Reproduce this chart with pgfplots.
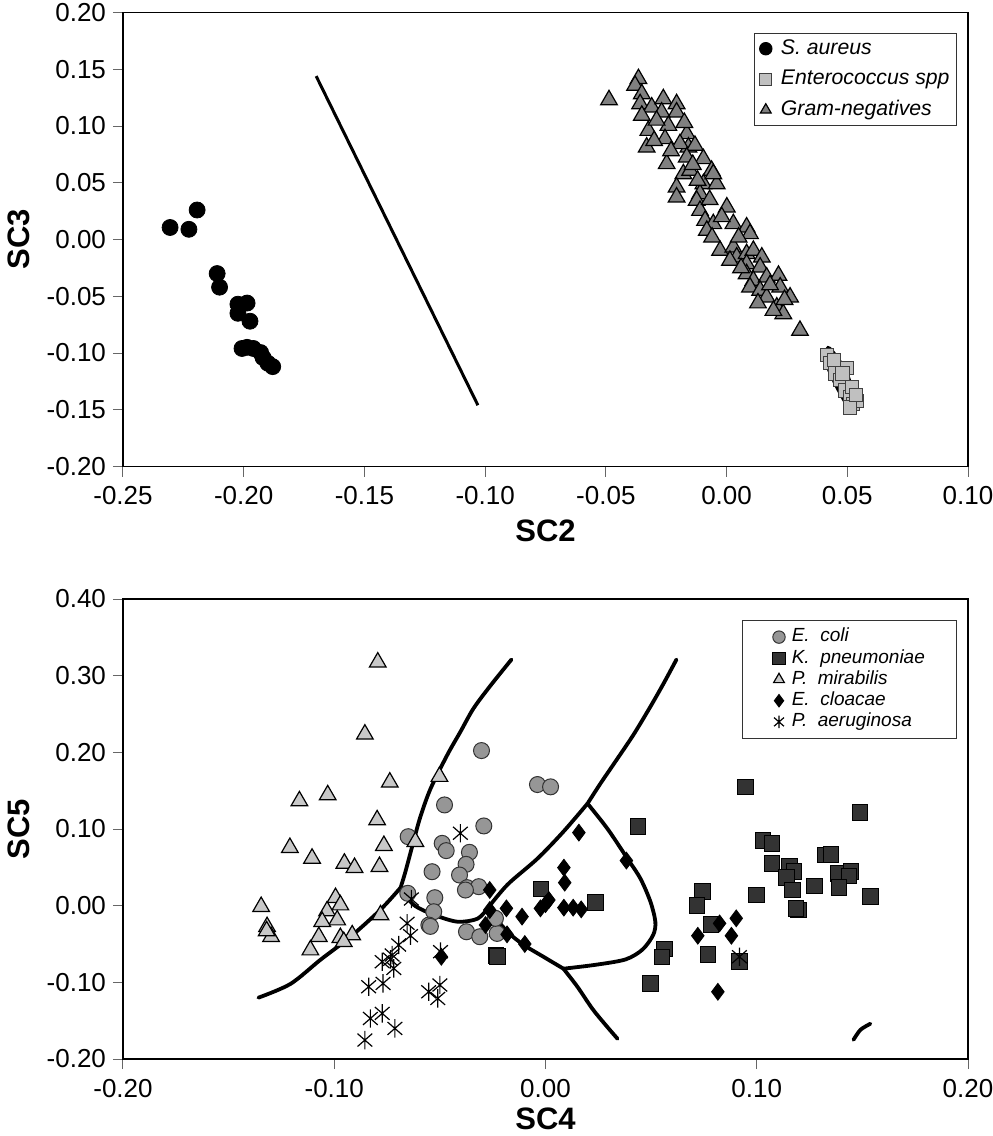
\documentclass[border=0pt]{standalone}
\usepackage{fontspec}
\setmainfont{Liberation Sans}
\usepackage{pgfplots}
\pgfplotsset{compat=1.18}

\pgfdeclareplotmark{xast}{%
  \pgfpathmoveto{\pgfqpoint{0pt}{\pgfplotmarksize}}%
  \pgfpathlineto{\pgfqpoint{0pt}{-\pgfplotmarksize}}%
  \pgfpathmoveto{\pgfqpoint{-0.8\pgfplotmarksize}{0.7\pgfplotmarksize}}%
  \pgfpathlineto{\pgfqpoint{0.8\pgfplotmarksize}{-0.7\pgfplotmarksize}}%
  \pgfpathmoveto{\pgfqpoint{-0.8\pgfplotmarksize}{-0.7\pgfplotmarksize}}%
  \pgfpathlineto{\pgfqpoint{0.8\pgfplotmarksize}{0.7\pgfplotmarksize}}%
  \pgfusepathqstroke}

\definecolor{gneg}{RGB}{128,128,128}
\definecolor{ent}{RGB}{192,192,192}
\definecolor{ecoli}{RGB}{150,150,150}
\definecolor{kpn}{RGB}{51,51,51}
\definecolor{pmir}{RGB}{200,200,200}

\pgfplotsset{
  common/.style={
    scale only axis,
    width=422.5pt,
    axis line style={black, line width=0.9pt},
    tick align=outside,
    xtick pos=left, ytick pos=left,
    major tick length=5pt,
    tick style={black!60, line width=0.5pt},
    scaled ticks=false,
    /pgf/number format/fixed,
    /pgf/number format/fixed zerofill,
    /pgf/number format/precision=2,
    /pgf/number format/assume math mode=true,
    tick label style={font=\fontsize{13}{15}\selectfont},
    xticklabel style={yshift=-1.5pt},
    label style={font=\bfseries\fontsize{15.5}{18}\selectfont},
    xlabel style={at={(rel axis cs:0.5,0)}, anchor=center, yshift=-32pt},
    ylabel style={at={(rel axis cs:0,0.5)}, anchor=center, yshift=52pt},
    legend cell align=left,
    legend image code/.code={\draw[##1, mark size=3.1pt] plot coordinates {(0.1cm,0cm)};},
    boundary/.style={black, line width=1.9pt, smooth, tension=0.5, line join=round, line cap=round, forget plot},
  }
}

\begin{document}
\begin{tikzpicture}
\useasboundingbox (0,0) rectangle (496pt,-568pt);

% ---------------- Top plot ----------------
\begin{axis}[common,
  at={(61.5pt,-233.25pt)}, anchor=south west,
  height=227pt,
  xmin=-0.25, xmax=0.10, ymin=-0.20, ymax=0.20,
  xtick={-0.25,-0.20,-0.15,-0.10,-0.05,0,0.05,0.10},
  ytick={-0.20,-0.15,-0.10,-0.05,0,0.05,0.10,0.15,0.20},
  xlabel={SC2}, ylabel={SC3},
  legend style={at={(1,1)}, anchor=north east, xshift=-5.5pt, yshift=-10pt,
    draw=black!80, line width=0.5pt, fill=white,
    font=\itshape\fontsize{10.6}{12}\selectfont, row sep=3.6pt,
    nodes={inner sep=1pt, text height=7.5pt, text depth=2.2pt},
    /tikz/every odd column/.append style={column sep=3.5pt},
    inner xsep=2.5pt, inner ysep=2pt},
]
\addplot[only marks, mark=*, mark size=4pt, draw=black, fill=black] coordinates {
(-0.2305,0.0106) (-0.2227,0.0090) (-0.2193,0.0260) (-0.2110,-0.0300)
(-0.2100,-0.0420) (-0.2024,-0.0570) (-0.1986,-0.0560) (-0.2024,-0.0650)
(-0.1974,-0.0720) (-0.1986,-0.0950) (-0.1960,-0.0960) (-0.1930,-0.0996)
(-0.1920,-0.1040) (-0.1900,-0.1090) (-0.1880,-0.1120) (-0.2007,-0.0960)
};
\addlegendentry{S.\ aureus}
\addplot[only marks, mark=square*, mark size=3.3pt, draw=black!75, fill=ent, line width=0.5pt] coordinates {
(0.0416,-0.102) (0.0429,-0.109) (0.0450,-0.118) (0.0470,-0.124)
(0.0491,-0.133) (0.0512,-0.139) (0.0524,-0.145) (0.0520,-0.130)
(0.0500,-0.113) (0.0540,-0.142) (0.0510,-0.148) (0.0480,-0.118)
(0.0445,-0.106) (0.0535,-0.137)
};
\addlegendentry{Enterococcus spp}
\addplot[only marks, mark=triangle*, mark size=4.8pt, draw=black, fill=gneg, line width=0.6pt] coordinates {
(-0.0487,0.1230) (-0.0365,0.1416) (-0.0379,0.1357) (-0.0351,0.1283)
(-0.0358,0.1195) (-0.0310,0.1166) (-0.0262,0.1239) (-0.0207,0.1195)
(-0.0207,0.1122) (-0.0269,0.1122) (-0.0351,0.1093) (-0.0324,0.0960)
(-0.0331,0.0813) (-0.0241,0.1004) (-0.0255,0.0887) (-0.0165,0.0931)
(-0.0158,0.0813) (-0.0193,0.0843) (-0.0131,0.0828) (-0.0248,0.0667)
(-0.0165,0.0725) (-0.0096,0.0711) (-0.0062,0.0608) (-0.0179,0.0578)
(-0.0151,0.0608) (-0.0207,0.0461) (-0.0207,0.0373) (-0.0096,0.0490)
(-0.0110,0.0402) (-0.0041,0.0490) (-0.0055,0.0578) (-0.0124,0.0344)
(-0.0110,0.0255) (-0.0089,0.0167) (-0.0055,0.0138) (0.0001,0.0285)
(0.0028,0.0138) (0.0083,0.0109) (0.0097,0.0050) (-0.0082,0.0079)
(-0.0027,-0.0097) (0.0028,-0.0068) (0.0042,-0.0156) (0.0014,-0.0185)
(0.0083,-0.0126) (0.0111,-0.0097) (0.0146,-0.0156) (0.0083,-0.0215)
(0.0139,-0.0244) (0.0083,-0.0303) (0.0111,-0.0361) (0.0166,-0.0332)
(0.0215,-0.0317) (0.0097,-0.0420) (0.0139,-0.0449) (0.0222,-0.0420)
(0.0263,-0.0508) (0.0166,-0.0508) (0.0208,-0.0596) (0.0235,-0.0655)
(0.0194,-0.0626) (0.0304,-0.0802) (-0.0290,0.1050) (-0.0230,0.0780)
(-0.0140,0.0660) (-0.0120,0.0520) (-0.0070,0.0350) (-0.0020,0.0200)
(0.0050,0.0020) (-0.0060,0.0020) (0.0060,-0.0250) (0.0180,-0.0400)
(0.0130,-0.0560) (0.0240,-0.0530) (-0.0175,0.1030) (-0.0300,0.0870)
};
\addlegendentry{Gram-negatives}
\addplot[black, line width=1.5pt, forget plot] coordinates {(-0.1700,0.1440) (-0.1030,-0.1460)};
\addplot[black, line width=1.3pt, smooth cycle, tension=0.6, forget plot] coordinates {
(0.0420,-0.0950) (0.0460,-0.1040) (0.0500,-0.1180) (0.0520,-0.1330)
(0.0520,-0.1440) (0.0500,-0.1460) (0.0470,-0.1360) (0.0437,-0.1220)
(0.0410,-0.1070)
};
\end{axis}

% ---------------- Bottom plot ----------------
\begin{axis}[common,
  at={(61.5pt,-529.5pt)}, anchor=south west,
  height=230pt,
  xmin=-0.20, xmax=0.20, ymin=-0.20, ymax=0.40,
  xtick={-0.20,-0.10,0,0.10,0.20},
  ytick={-0.20,-0.10,0,0.10,0.20,0.30,0.40},
  xlabel={SC4}, ylabel={SC5},
  xlabel style={yshift=2pt},
  legend style={at={(1,1)}, anchor=north east, xshift=-5.5pt, yshift=-10.5pt,
    draw=black!80, line width=0.5pt, fill=white,
    font=\itshape\fontsize{9.5}{11}\selectfont, row sep=0pt,
    nodes={inner sep=0.8pt, text height=6.9pt, text depth=2.1pt},
    /tikz/every odd column/.append style={column sep=2.5pt},
    inner xsep=15pt, inner ysep=3pt},
]
\addplot[only marks, mark=*, mark size=4pt, draw=black!80, fill=ecoli, line width=0.5pt] coordinates {
(-0.0303,0.2023) (-0.0478,0.1314) (-0.0292,0.1040) (-0.0650,0.0900)
(-0.0489,0.0813) (-0.0470,0.0718) (-0.0360,0.0696) (-0.0376,0.0539)
(-0.0537,0.0443) (-0.0407,0.0400) (-0.0371,0.0235) (-0.0316,0.0248)
(-0.0379,0.0204) (-0.0652,0.0161) (-0.0524,0.0104) (-0.0529,-0.0079)
(-0.0552,-0.0253) (-0.0374,-0.0340) (-0.0311,-0.0405) (-0.0229,-0.0362)
(-0.0237,-0.0165) (-0.0038,0.1580) (0.0024,0.1550) (-0.0545,-0.0270)
};
\addlegendentry{E.\ \ coli}
\addplot[only marks, mark=square*, mark size=3.9pt, draw=black, fill=kpn, line width=0.5pt] coordinates {
(0.0948,0.1549) (0.1488,0.1219) (0.1029,0.0853) (0.1073,0.0814)
(0.1073,0.0553) (0.1155,0.0509) (0.1176,0.0444) (0.1141,0.0366)
(0.1168,0.0205) (0.1273,0.0257) (0.1326,0.0662) (0.1352,0.0670)
(0.1384,0.0422) (0.1447,0.0444) (0.1436,0.0387) (0.1389,0.0235)
(0.1539,0.0118) (0.0999,0.0139) (0.1199,-0.0057) (0.1185,-0.0040)
(0.0742,0.0183) (0.0718,0.0000) (0.0784,-0.0244) (0.0770,-0.0635)
(0.0918,-0.0731) (0.0563,-0.0566) (0.0552,-0.0670) (0.0497,-0.1014)
(0.0437,0.1032) (-0.0021,0.0218) (0.0236,0.0039) (-0.0234,-0.0653)
(-0.0228,-0.0660)
};
\addlegendentry{K.\ \ pneumoniae}
\addplot[only marks, mark=triangle*, mark size=4.8pt, draw=black, fill=pmir, line width=0.6pt] coordinates {
(-0.0794,0.3176) (-0.0855,0.2236) (-0.0737,0.1610) (-0.1031,0.1444)
(-0.1165,0.1366) (-0.0797,0.1118) (-0.0765,0.0783) (-0.1210,0.0757)
(-0.1105,0.0617) (-0.0952,0.0552) (-0.0904,0.0496) (-0.0786,0.0509)
(-0.0502,0.1684) (-0.0616,0.0835) (-0.1346,-0.0013) (-0.1318,-0.0275)
(-0.1299,-0.0405) (-0.0994,0.0104) (-0.0971,0.0008) (-0.1034,-0.0070)
(-0.0986,-0.0188) (-0.1057,-0.0209) (-0.1073,-0.0405) (-0.1113,-0.0579)
(-0.0971,-0.0418) (-0.0915,-0.0383) (-0.0781,-0.0122) (-0.0955,-0.0470)
(-0.1320,-0.0330)
};
\addlegendentry{P.\ \ mirabilis}
\addplot[only marks, mark=diamond*, mark size=4.2pt, draw=black, fill=black] coordinates {
(0.0158,0.0953) (0.0383,0.0588) (0.0087,0.0496) (0.0091,0.0300)
(0.0016,0.0074) (-0.0024,-0.0035) (0.0087,-0.0026) (0.0131,-0.0026)
(0.0169,-0.0048) (-0.0264,0.0205) (-0.0185,-0.0035) (-0.0111,-0.0143)
(-0.0264,-0.0057) (-0.0284,-0.0252) (-0.0182,-0.0374) (-0.0098,-0.0500)
(-0.0493,-0.0666) (0.0903,-0.0165) (0.0824,-0.0231) (0.0721,-0.0392)
(0.0880,-0.0392) (0.0816,-0.1123) (0.0000,0.0020)
};
\addlegendentry{E.\ \ cloacae}
\addplot[only marks, mark=xast, mark size=4.6pt, draw=black, line width=0.6pt] coordinates {
(-0.0403,0.0945) (-0.0635,0.0087) (-0.0655,-0.0230) (-0.0639,-0.0391)
(-0.0695,-0.0513) (-0.0726,-0.0644) (-0.0773,-0.0731) (-0.0718,-0.0818)
(-0.0769,-0.1014) (-0.0837,-0.1057) (-0.0553,-0.1123) (-0.0500,-0.1035)
(-0.0510,-0.1210) (-0.0773,-0.1405) (-0.0829,-0.1471) (-0.0713,-0.1601)
(-0.0855,-0.1753) (-0.0497,-0.0600) (-0.0734,-0.0700) (0.0918,-0.0666)
};
\addlegendentry{P.\ \ aeruginosa}
% boundaries
\addplot[boundary] coordinates {
(-0.1359,-0.1200) (-0.1207,-0.1020) (-0.1065,-0.0705) (-0.0923,-0.0405)
(-0.0781,-0.0052) (-0.0686,0.0235)
};
\addplot[boundary] coordinates {
(-0.0686,0.0235) (-0.0663,0.0444) (-0.0625,0.0836) (-0.0592,0.1162)
(-0.0544,0.1527) (-0.0464,0.1971) (-0.0402,0.2272) (-0.0341,0.2572)
(-0.0260,0.2872) (-0.0161,0.3211)
};
\addplot[boundary] coordinates {
(-0.0686,0.0235) (-0.0625,0.0013) (-0.0530,-0.0117) (-0.0417,-0.0209)
(-0.0322,-0.0170) (-0.0275,-0.0039)
};
\addplot[boundary] coordinates {
(-0.0275,-0.0039) (-0.0180,0.0274) (-0.0038,0.0614) (0.0085,0.0966)
(0.0199,0.1332)
};
\addplot[boundary] coordinates {
(0.0199,0.1332) (0.0260,0.1593) (0.0331,0.1880) (0.0417,0.2232)
(0.0497,0.2598) (0.0559,0.2898) (0.0620,0.3211)
};
\addplot[boundary] coordinates {
(0.0199,0.1332) (0.0293,0.1005) (0.0388,0.0614) (0.0450,0.0350)
(0.0497,0.0050) (0.0520,-0.0210) (0.0510,-0.0380) (0.0460,-0.0570)
(0.0380,-0.0700) (0.0240,-0.0770) (0.0085,-0.0822)
};
\addplot[boundary] coordinates {
(-0.0275,-0.0039) (-0.0180,-0.0340) (-0.0104,-0.0510) (-0.0010,-0.0666)
(0.0085,-0.0822)
};
\addplot[boundary] coordinates {
(0.0085,-0.0822) (0.0151,-0.1057) (0.0222,-0.1345) (0.0284,-0.1554)
(0.0341,-0.1736)
};
\addplot[boundary] coordinates {
(0.1458,-0.1749) (0.1491,-0.1619) (0.1538,-0.1540)
};
\end{axis}
\end{tikzpicture}
\end{document}
